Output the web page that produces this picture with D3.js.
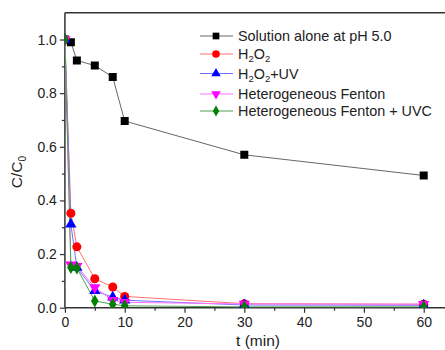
<!DOCTYPE html>
<html><head><meta charset="utf-8">
<script src="https://cdn.jsdelivr.net/npm/d3@7"></script>
<style>body{margin:0;background:#fff}svg{display:block}text{font-family:"Liberation Sans",Arial,sans-serif;fill:#222}</style>
</head><body>
<svg id="c" width="445" height="350"></svg>
<script>
const times = [0, 1, 2, 5, 8, 10, 30, 60];
const solutionAlone = [1.0, 0.99, 0.922, 0.903, 0.86, 0.696, 0.57, 0.493];
const h2o2 = [1.0, 0.352, 0.227, 0.108, 0.077, 0.042, 0.015, 0.013];
const h2o2UV = [1.0, 0.311, 0.15, 0.063, 0.039, 0.028, 0.01, 0.009];
const hetFenton = [1.0, 0.16, 0.155, 0.075, 0.028, 0.02, 0.014, 0.013];
const hetFentonUVC = [1.0, 0.15, 0.148, 0.025, 0.013, 0.007, 0.003, 0.003];
const xTicks = [0, 10, 20, 30, 40, 50, 60];
const yTicks = [0, 0.2, 0.4, 0.6, 0.8, 1.0];

const series = [
  {name: "Solution alone at pH 5.0", vals: solutionAlone, color: "#000000", line: "#666666", sym: d3.symbolSquare, size: 64},
  {name: "H2O2", vals: h2o2, color: "#ff0000", line: "#ff7070", sym: d3.symbolCircle, size: 64},
  {name: "H2O2+UV", vals: h2o2UV, color: "#0000ff", line: "#7070ff", sym: d3.symbolTriangle, size: 55},
  {name: "Heterogeneous Fenton", vals: hetFenton, color: "#ff00ff", line: "#ff70ff", sym: d3.symbolTriangle, size: 55, rot: 180},
  {name: "Heterogeneous Fenton + UVC", vals: hetFentonUVC, color: "#008000", line: "#50a050", sym: d3.symbolDiamond, size: 50}
];

const svg = d3.select("#c");
const L = 64.9, T = 12.7, B = 307.7;
const x = d3.scaleLinear().domain([0, 65]).range([L, L + 65 * 5.98]);
const y = d3.scaleLinear().domain([0, 1.1]).range([B, T]);

svg.append("defs").append("clipPath").attr("id", "pc")
  .append("rect").attr("x", L).attr("y", T).attr("width", 445 - L).attr("height", B - T);

// axes
const axCol = "#333";
const gx = svg.append("g").attr("transform", `translate(0,${B})`)
  .call(d3.axisBottom(x).tickValues(xTicks).tickSize(5).tickPadding(4).tickFormat(d3.format("d")));
const gxm = svg.append("g").attr("transform", `translate(0,${B})`)
  .call(d3.axisBottom(x).tickValues(d3.range(5, 65, 10)).tickSize(3).tickFormat(""));
const gy = svg.append("g").attr("transform", `translate(${L},0)`)
  .call(d3.axisLeft(y).tickValues(yTicks).tickSize(5).tickPadding(3).tickFormat(d3.format(".1f")));
const gym = svg.append("g").attr("transform", `translate(${L},0)`)
  .call(d3.axisLeft(y).tickValues([0.1, 0.3, 0.5, 0.7, 0.9]).tickSize(3).tickFormat(""));
[gx, gxm, gy, gym].forEach(g => {
  g.select(".domain").remove();
  g.selectAll("line").attr("stroke", axCol).attr("stroke-width", 1.2);
  g.selectAll("text").style("font-size", "14px").style("font-family", "Liberation Sans, Arial, sans-serif").attr("fill", "#222");
});
svg.append("line").attr("x1", L).attr("x2", 445).attr("y1", B).attr("y2", B).attr("stroke", axCol).attr("stroke-width", 1.5);
svg.append("line").attr("x1", L).attr("x2", L).attr("y1", T).attr("y2", B).attr("stroke", axCol).attr("stroke-width", 1.5);
svg.append("line").attr("x1", L).attr("x2", 445).attr("y1", T).attr("y2", T).attr("stroke", axCol).attr("stroke-width", 1.5);

// axis titles
svg.append("text").attr("x", x(32.3)).attr("y", 346).attr("text-anchor", "middle").style("font-size", "15.5px").text("t (min)");
const yl = svg.append("text").attr("transform", `translate(22,172) rotate(-90)`).attr("text-anchor", "middle").style("font-size", "15.5px");
yl.append("tspan").text("C/C");
yl.append("tspan").attr("dy", 4).style("font-size", "10px").text("0");

// data
const plot = svg.append("g").attr("clip-path", "url(#pc)");
const line = d3.line().x((d, i) => x(times[i])).y(d => y(d));
series.forEach(s => {
  plot.append("path").datum(s.vals).attr("d", line).attr("fill", "none").attr("stroke", s.line).attr("stroke-width", 1);
});
series.forEach(s => {
  const sym = d3.symbol().type(s.sym).size(s.size);
  plot.selectAll(null).data(s.vals).enter().append("path")
    .attr("d", sym)
    .attr("transform", (d, i) => `translate(${x(times[i])},${y(d)}) rotate(${s.rot || 0})`)
    .attr("fill", s.color);
});

// legend
const legY = [36, 54, 73.5, 94, 111];
series.forEach((s, i) => {
  const g = svg.append("g").attr("transform", `translate(0,${legY[i]})`);
  g.append("line").attr("x1", 200).attr("x2", 233).attr("stroke", s.line).attr("stroke-width", 1);
  g.append("path").attr("d", d3.symbol().type(s.sym).size(s.size * 0.7)())
    .attr("transform", `translate(216,0) rotate(${s.rot || 0})`).attr("fill", s.color);
  const t = g.append("text").attr("x", 238).attr("y", 5).style("font-size", "14.4px");
  if (s.name.startsWith("H2O2")) {
    t.append("tspan").text("H");
    t.append("tspan").attr("dy", 3).style("font-size", "9.5px").text("2");
    t.append("tspan").attr("dy", -3).text("O");
    t.append("tspan").attr("dy", 3).style("font-size", "9.5px").text("2");
    t.append("tspan").attr("dy", -3).text(s.name.slice(4));
  } else {
    t.text(s.name);
  }
});
</script>
</body></html>
